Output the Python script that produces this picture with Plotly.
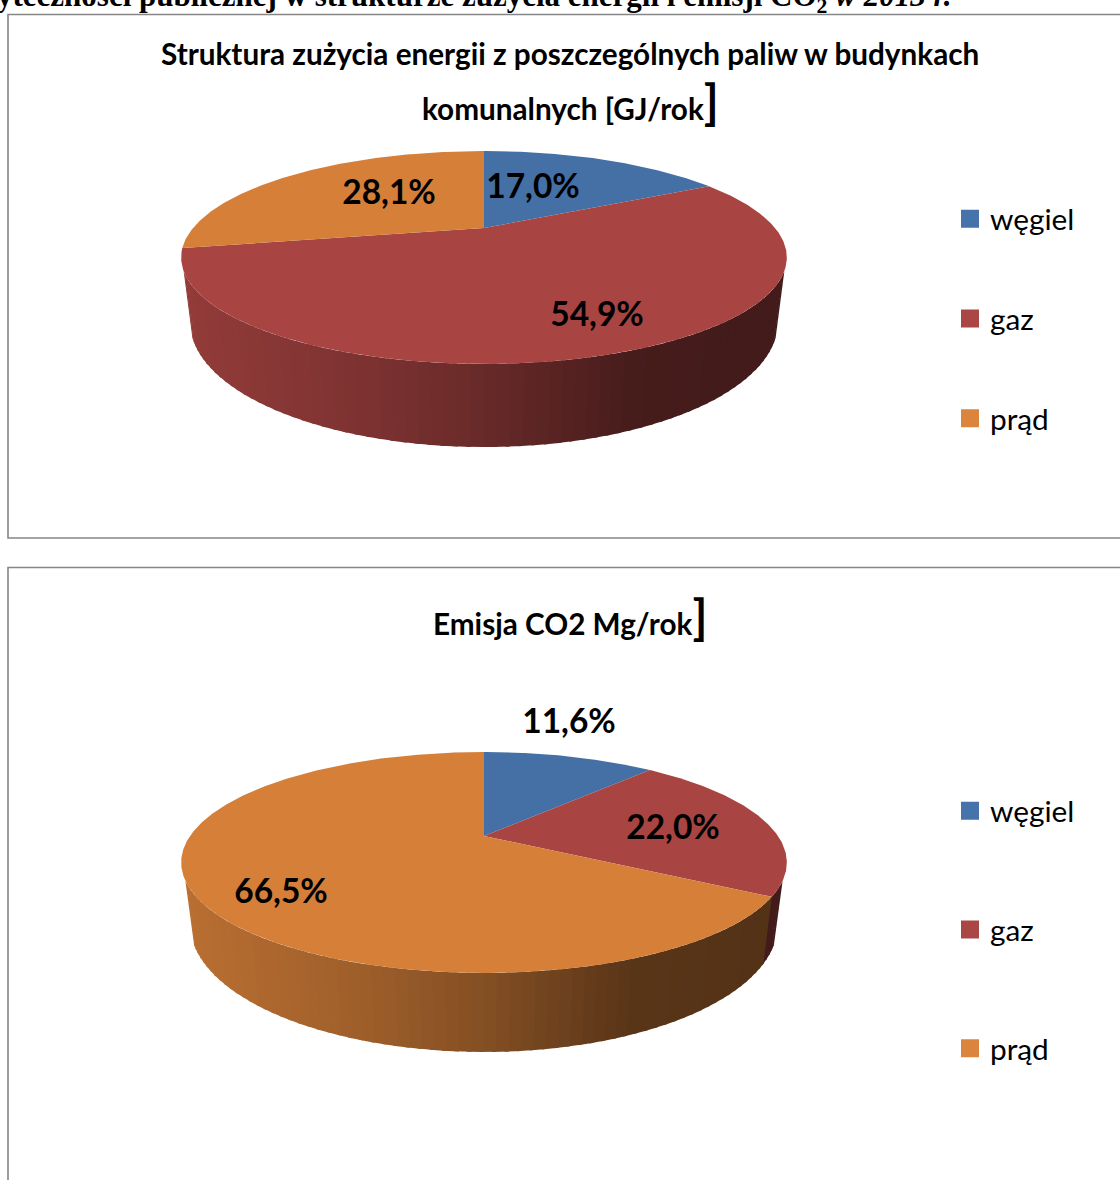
import math
import plotly.graph_objects as go

categories = ["węgiel", "gaz", "prąd"]
energy_share = [17.0, 54.9, 28.1]
co2_share = [11.6, 22.0, 66.5]

face_colors = ["#4470A5", "#A84442", "#D57F39"]
legend_colors = ["#4674AA", "#AA4644", "#DB843D"]
FONT = "Lato"

# perspective geometry of each pie (page pixels): top rim, bottom rim
geo1 = dict(cx=484, ay=228, S=291, T=98.3, k=0.277, ay2=287.4, S2=282.5, T2=115.4)
geo2 = dict(cx=484, ay=836, S=294, T=104.1, k=0.2398, ay2=893.3, S2=285.4, T2=120.6)
SIL = math.radians(113)  # angle where the side wall becomes visible

fig = go.Figure()


def rim(g, t, lower=False):
    u, v = math.sin(t), math.cos(t)
    w = 1 + g["k"] * v
    S, T, a = (g["S2"], g["T2"], g["ay2"]) if lower else (g["S"], g["T"], g["ay"])
    return g["cx"] + S * u / w, a - T * v / w


def shade(hexcol, f):
    r, g, b = [int(hexcol[i:i + 2], 16) for i in (1, 3, 5)]
    return f"rgb({round(r * f)},{round(g * f)},{round(b * f)})"


STOPS = [(0.0, 0.87), (0.3, 0.74), (0.5, 0.62), (0.75, 0.42), (1.0, 0.39)]


def wall_factor(x):
    p = max(0.0, min(1.0, (x - 190) / 587))
    for (a, fa), (b, fb) in zip(STOPS, STOPS[1:]):
        if p <= b:
            return fa + (fb - fa) * (p - a) / (b - a)
    return STOPS[-1][1]


def poly(xs, ys, col):
    fig.add_trace(go.Scatter(x=xs, y=ys, mode="lines", fill="toself", fillcolor=col,
                             line=dict(color=col, width=0), hoverinfo="skip",
                             showlegend=False))


def pie(values, g):
    total = sum(values)
    edges = [0.0]
    for val in values:
        edges.append(edges[-1] + 2 * math.pi * val / total)
    # side wall: each strip runs slightly under the next one so no seam shows
    start, end = SIL, 2 * math.pi - SIL
    cuts = [start + i * (end - start) / 70 for i in range(71)]
    cuts += [e for e in edges if start < e < end]
    cuts.sort()
    for n, (t1, t2) in enumerate(zip(cuts, cuts[1:])):
        mid = (t1 + t2) / 2
        idx = next(i for i in range(len(values)) if edges[i] <= mid <= edges[i + 1])
        t3 = t2 if n == len(cuts) - 2 else t2 + 0.012
        a, b, c, d = rim(g, t1), rim(g, t3), rim(g, t3, True), rim(g, t1, True)
        m = (rim(g, mid)[0] + rim(g, mid, True)[0]) / 2
        col = shade(face_colors[idx], wall_factor(m))
        poly([a[0], b[0], c[0], d[0], a[0]], [a[1], b[1], c[1], d[1], a[1]], col)
    # top faces
    for i in range(len(values)):
        n = max(8, int((edges[i + 1] - edges[i]) / 0.01))
        pts = [rim(g, edges[i] + j * (edges[i + 1] - edges[i]) / n) for j in range(n + 1)]
        xs = [g["cx"]] + [p[0] for p in pts] + [g["cx"]]
        ys = [g["ay"]] + [p[1] for p in pts] + [g["ay"]]
        poly(xs, ys, face_colors[i])


pie(energy_share, geo1)
pie(co2_share, geo2)


def pct(v):
    return f"<b>{v:.1f}%</b>".replace(".", ",")


label_x = [533, 597, 389, 569, 673, 281]
label_y = [189.5, 317.5, 195.5, 724.5, 830.5, 894.5]
fig.add_trace(go.Scatter(x=label_x, y=label_y, mode="text",
                         text=[pct(v) for v in energy_share + co2_share],
                         textposition="middle center",
                         textfont=dict(family=FONT, size=33.5, color="#000000"),
                         hoverinfo="skip", showlegend=False))

for leg, grp in (("legend", "a"), ("legend2", "b")):
    for name, col in zip(categories, legend_colors):
        fig.add_trace(go.Scatter(x=[None], y=[None], mode="markers", name=name, legend=leg,
                                 legendgroup=grp + name,
                                 marker=dict(symbol="square", size=16, color=col,
                                             line=dict(color=col, width=2))))

legend_common = dict(xref="paper", yref="paper", xanchor="left", yanchor="top",
                     bgcolor="rgba(0,0,0,0)", borderwidth=0, itemclick=False,
                     itemdoubleclick=False,
                     font=dict(family=FONT, size=29.8, color="#000000"))

axis = dict(visible=False, fixedrange=True)
fig.update_layout(
    width=1120, height=1180, margin=dict(l=0, r=0, t=0, b=0),
    paper_bgcolor="#FFFFFF", plot_bgcolor="#FFFFFF",
    xaxis=dict(range=[0, 1120], **axis),
    yaxis=dict(range=[1180, 0], **axis),
    legend=dict(x=950 / 1120, y=1 - 193 / 1180, tracegroupgap=58, **legend_common),
    legend2=dict(x=950 / 1120, y=1 - 785 / 1180, tracegroupgap=77, **legend_common),
    shapes=[
        dict(type="rect", xref="x", yref="y", x0=8, x1=1140, y0=14.5, y1=538,
             line=dict(color="#868686", width=1.6), layer="below"),
        dict(type="rect", xref="x", yref="y", x0=8, x1=1140, y0=567.5, y1=1200,
             line=dict(color="#868686", width=1.6), layer="below"),
    ],
)


def text(x, y, s, size, anchor="center", family=FONT):
    fig.add_annotation(x=x / 1120, y=1 - y / 1180, xref="paper", yref="paper", text=s,
                       showarrow=False, xanchor=anchor, yanchor="middle",
                       font=dict(family=family, size=size, color="#000000"))


text(570, 53, "<b>Struktura zużycia energii z poszczególnych paliw w budynkach</b>", 29.7)
text(570, 101, "<b>komunalnych [GJ/rok<span style=\"font-size:48px\">]</span></b>", 29.7)
text(570, 616, "<b>Emisja CO2 Mg/rok<span style=\"font-size:48px\">]</span></b>", 29.7)
text(-5, -2, "<b>yteczności publicznej w strukturze zużycia energii i emisji CO<sub>2</sub> "
     "<i>w 2013 r.</i></b>", 31, anchor="left", family="Liberation Serif")

fig.write_html("out.html", config=dict(displayModeBar=False),
               post_script="document.body.style.margin='0';")
